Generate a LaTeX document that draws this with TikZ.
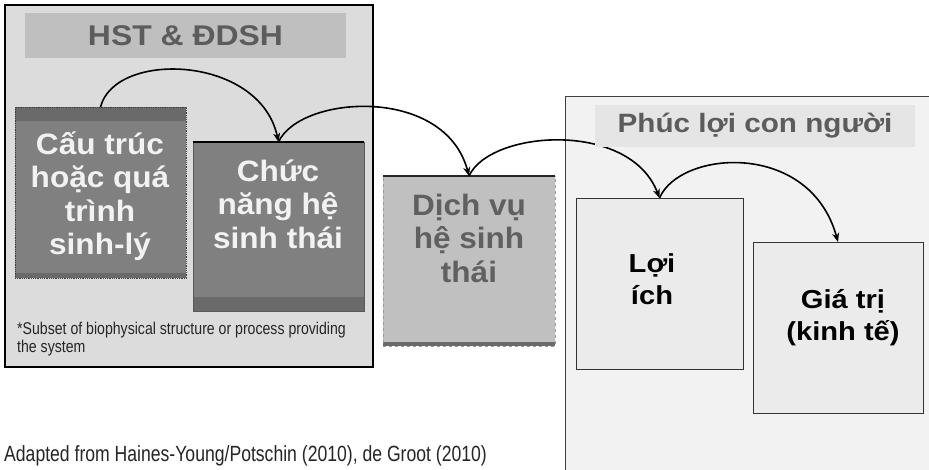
\documentclass[tikz,border=0pt]{standalone}
\usepackage{fontspec}
\setmainfont{Liberation Sans}
\newfontfamily\wsans[FakeStretch=1.12]{Liberation Sans}
\newfontfamily\bsans[FakeStretch=1.07]{Liberation Sans}
\newfontfamily\nsans[FakeStretch=0.83]{Liberation Sans}
\newfontfamily\fsans[FakeStretch=0.8]{Liberation Sans}
\usetikzlibrary{arrows.meta}
\definecolor{leftbg}{HTML}{DCDCDC}
\definecolor{tbar}{HTML}{BFBFBF}
\definecolor{ttext}{HTML}{5C5C5C}
\definecolor{darkbox}{HTML}{808080}
\definecolor{band}{HTML}{6A6A6A}
\definecolor{boxtext}{HTML}{F2F2F2}
\definecolor{midbox}{HTML}{C0C0C0}
\definecolor{midtext}{HTML}{606060}
\definecolor{rightbg}{HTML}{F2F2F2}
\definecolor{rbar}{HTML}{E5E5E5}
\definecolor{lightbox}{HTML}{EBEBEB}
\tikzset{
  bigtxt/.style={font=\bsans\bfseries\fontsize{29.5}{33.5}\selectfont, align=center, inner sep=0},
  midtxt/.style={font=\wsans\bfseries\fontsize{26}{32}\selectfont, align=center, inner sep=0},
  sqbox/.style={anchor=north west, inner sep=0, outer sep=0},
  conn/.style={line width=1.6pt, draw=black, -{Stealth[length=9pt,width=7pt]}},
}
\begin{document}
\begin{tikzpicture}[x=1pt,y=-1pt]
\useasboundingbox (0,0) rectangle (929,469);
\clip (0,0) rectangle (929,469);
\fill[white] (0,0) rectangle (929,469);

% left panel
\node[sqbox, fill=leftbg, draw=black, line width=1.3pt, minimum width=368, minimum height=362] (lp) at (5,5) {};
\node[sqbox, fill=tbar, minimum width=321, minimum height=45,
      font=\wsans\bfseries\fontsize{28.5}{30}\selectfont, text=ttext] (lt) at (25,13) {HST \& ĐDSH};

% box 1
\node[sqbox, fill=darkbox, draw=black!75, densely dotted, line width=0.8pt, minimum width=171, minimum height=171,
  path picture={\fill[band] (path picture bounding box.north west) rectangle ([yshift=-14pt]path picture bounding box.north east);
                \fill[band] (path picture bounding box.south west) rectangle ([yshift=5pt]path picture bounding box.south east);}] (b1) at (15,107) {};
\node[bigtxt, text=boxtext] (t1) at (100,196) {Cấu trúc\\hoặc quá\\trình\\sinh-lý};

% box 2
\node[sqbox, fill=darkbox, draw=black!65, line width=0.8pt, minimum width=171, minimum height=169,
  path picture={\fill[band] (path picture bounding box.south west) rectangle ([yshift=14pt]path picture bounding box.south east);}] (b2) at (193,142) {};
\draw[line width=1.5pt, black] (b2.north west) -- (b2.north east);
\node[bigtxt, text=boxtext] (t2) at (278,204) {Chức\\năng hệ\\sinh thái};

% footnote
\node[anchor=north west, align=left, inner sep=0, font=\nsans\fontsize{17}{17.5}\selectfont, text=black!85] (fn) at (17,322)
  {*Subset of biophysical structure or process providing\\the system};

% box 3
\node[sqbox, fill=midbox, draw=black!40, dashed, line width=0.7pt, minimum width=172, minimum height=170,
  path picture={\fill[band] (path picture bounding box.south west) rectangle ([yshift=4pt]path picture bounding box.south east);}] (b3) at (383,176) {};
\draw[line width=1.2pt, black!85] (b3.north west) -- (b3.north east);
\node[bigtxt, text=midtext] (t3) at (469,238) {Dịch vụ\\hệ sinh\\thái};

% right panel
\node[sqbox, fill=rightbg, draw=black!75, line width=1pt, minimum width=380, minimum height=385] (rp) at (565,96) {};

% box 4 and 5
\node[sqbox, fill=lightbox, draw=black!80, line width=0.9pt, minimum width=167, minimum height=171] (b4) at (576,198) {};
\node[midtxt, text=black] (t4) at (652,279) {Lợi\\ích};
\node[sqbox, fill=lightbox, draw=black!80, line width=0.9pt, minimum width=170, minimum height=171] (b5) at (753,242) {};
\node[midtxt, text=black] (t5) at (843,318) {Giá trị\\(kinh tế)};

% connectors
\draw[conn] (b1.north) .. controls (115,50) and (260,55) .. (b2.north);
\draw[conn] (b2.north) .. controls (300,95) and (445,85) .. (b3.north);
\draw[conn] (b3.north) .. controls (490,130) and (630,120) .. (b4.north);

% right title bar (over connector)
\node[sqbox, fill=rbar, minimum width=320, minimum height=42,
      font=\wsans\bfseries\fontsize{26.5}{30}\selectfont, text=ttext] (rt) at (595,105) {Phúc lợi con người};

\draw[conn] (b4.north) .. controls (680,150) and (810,140) .. (b5.north);

% footer
\node[anchor=base west, inner sep=0, font=\fsans\fontsize{22}{24}\selectfont, text=black!85] (ft) at (4,461)
  {Adapted from Haines-Young/Potschin (2010), de Groot (2010)};
\end{tikzpicture}
\end{document}
